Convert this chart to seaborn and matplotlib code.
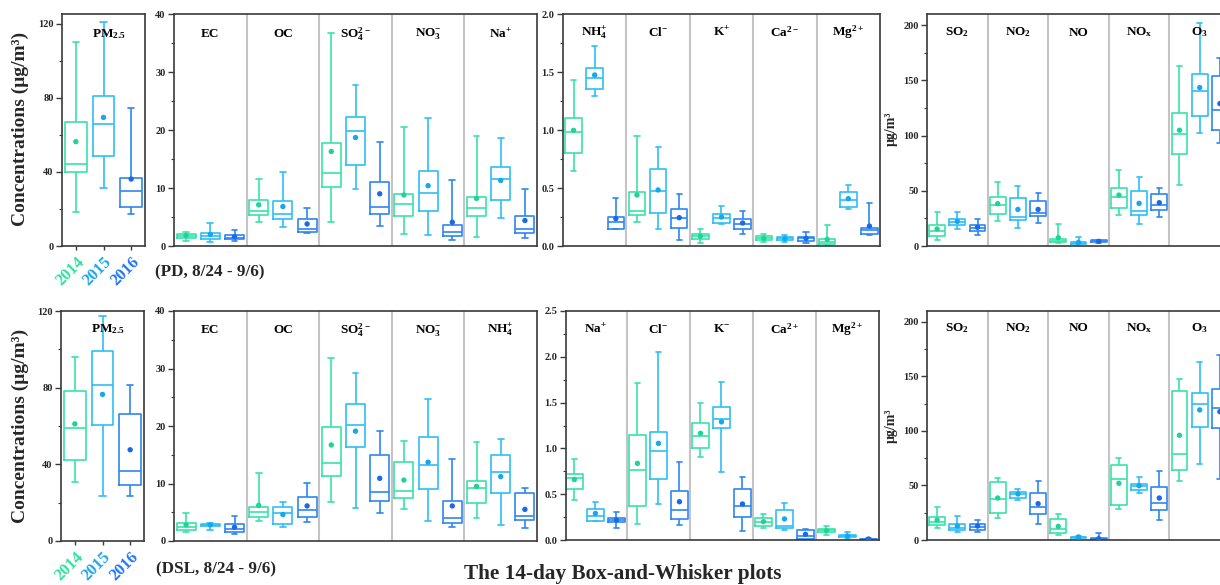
import matplotlib
matplotlib.use("Agg")
import matplotlib.pyplot as plt
import matplotlib.transforms as mtransforms
from matplotlib.ticker import MultipleLocator, FormatStrFormatter
import pandas as pd
import seaborn as sns

# ---------------------------------------------------------------------------
# Five-number summaries per box: (whisker low, Q1, median, Q3, whisker high)
# ---------------------------------------------------------------------------
YEARS = ["2014", "2015", "2016"]

# PD site, 8/24 - 9/6
pd_pm_species = ["PM$_{2.5}$"]
pd_pm_box = {
    "2014": [(18.2, 39.8, 44.3, 66.8, 110.5)],
    "2015": [(31.2, 48.6, 66.1, 81.1, 121.3)],
    "2016": [(17.1, 21.1, 29.9, 36.6, 74.6)],
}
pd_pm_mean = {"2014": [56.4], "2015": [69.5], "2016": [36.2]}

pd_major_species = ["EC", "OC", "SO$_4^{2-}$", "NO$_3^{-}$", "Na$^{+}$"]
pd_major_box = {
    "2014": [(0.8, 1.3, 1.7, 2.1, 2.4), (4.2, 5.3, 6.1, 8.0, 11.6),
             (4.1, 10.1, 12.6, 17.7, 36.8), (2.1, 5.1, 7.2, 9.0, 20.6),
             (1.5, 5.2, 6.5, 8.5, 19.0)],
    "2015": [(0.75, 1.15, 1.7, 2.2, 4.0), (3.3, 4.7, 5.5, 7.7, 12.8),
             (9.8, 13.9, 19.9, 22.2, 27.8), (1.9, 6.1, 9.1, 12.9, 22.1),
             (4.8, 7.9, 11.6, 13.7, 18.7)],
    "2016": [(0.9, 1.15, 1.4, 1.95, 2.8), (2.2, 2.5, 2.9, 4.6, 6.5),
             (3.4, 5.5, 6.7, 11.1, 18.0), (1.1, 1.8, 2.4, 3.7, 11.3),
             (1.4, 2.2, 3.0, 5.1, 9.9)],
}
pd_major_mean = {
    "2014": [1.8, 7.1, 16.3, 8.8, 8.2],
    "2015": [2.0, 6.8, 18.7, 10.4, 11.3],
    "2016": [1.6, 3.8, 9.0, 4.1, 4.4],
}

pd_minor_species = ["NH$_4^{+}$", "Cl$^{-}$", "K$^{+}$", "Ca$^{2-}$", "Mg$^{2+}$"]
pd_minor_box = {
    "2014": [(0.65, 0.80, 0.985, 1.105, 1.43), (0.21, 0.27, 0.30, 0.465, 0.95),
             (0.03, 0.063, 0.083, 0.106, 0.144), (0.037, 0.049, 0.066, 0.086, 0.106),
             (0.006, 0.014, 0.034, 0.057, 0.181)],
    "2015": [(1.29, 1.355, 1.45, 1.535, 1.72), (0.15, 0.287, 0.474, 0.667, 0.85),
             (0.187, 0.20, 0.244, 0.279, 0.345), (0.037, 0.055, 0.066, 0.078, 0.098),
             (0.316, 0.336, 0.40, 0.466, 0.526)],
    "2016": [(0.144, 0.149, 0.207, 0.253, 0.417), (0.052, 0.155, 0.244, 0.322, 0.451),
             (0.106, 0.144, 0.193, 0.23, 0.299), (0.029, 0.046, 0.066, 0.08, 0.118),
             (0.092, 0.106, 0.138, 0.155, 0.368)],
}
pd_minor_mean = {
    "2014": [0.997, 0.44, 0.083, 0.066, 0.057],
    "2015": [1.474, 0.483, 0.25, 0.063, 0.408],
    "2016": [0.236, 0.244, 0.198, 0.066, 0.172],
}

pd_gas_species = ["SO$_2$", "NO$_2$", "NO", "NO$_x$", "O$_3$"]
pd_gas_box = {
    "2014": [(5.4, 8.7, 13.6, 19.3, 30.4), (22.6, 28.6, 36.7, 44.6, 57.5),
             (2.7, 3.3, 4.8, 6.0, 19.6), (28.3, 34.6, 44.0, 52.7, 68.7),
             (54.8, 83.4, 101.8, 120.8, 162.7)],
    "2015": [(15.4, 18.7, 22.0, 24.7, 30.4), (16.0, 23.5, 26.5, 43.7, 54.5),
             (1.5, 2.1, 3.0, 3.9, 7.8), (19.9, 27.7, 31.6, 49.4, 62.3),
             (102.7, 117.5, 140.1, 155.4, 202.1)],
    "2016": [(9.6, 13.9, 16.6, 19.3, 24.7), (20.5, 27.4, 30.1, 40.4, 47.6),
             (3.0, 3.3, 4.2, 5.1, 5.7), (25.9, 32.5, 37.0, 46.7, 52.7),
             (92.8, 104.8, 123.5, 153.6, 170.5)],
}
pd_gas_mean = {
    "2014": [15.4, 38.3, 7.5, 46.1, 104.8],
    "2015": [22.3, 33.1, 3.3, 38.6, 143.4],
    "2016": [16.9, 33.1, 4.2, 39.2, 128.9],
}

# DSL site, 8/24 - 9/6
dsl_pm_species = ["PM$_{2.5}$"]
dsl_pm_box = {
    "2014": [(30.6, 42.4, 59.2, 78.1, 95.8)],
    "2015": [(23.5, 60.3, 81.2, 99.2, 117.2)],
    "2016": [(23.5, 29.1, 36.5, 66.1, 81.2)],
}
dsl_pm_mean = {"2014": [61.1], "2015": [76.5], "2016": [47.6]}

dsl_major_species = ["EC", "OC", "SO$_4^{2-}$", "NO$_3^{-}$", "NH$_4^{+}$"]
dsl_major_box = {
    "2014": [(1.5, 2.0, 2.5, 3.2, 4.8), (3.5, 4.1, 5.0, 6.0, 11.9),
             (6.7, 11.3, 13.6, 19.9, 31.8), (5.5, 7.4, 8.7, 13.8, 17.4),
             (4.0, 6.6, 9.3, 10.4, 17.3)],
    "2015": [(2.0, 2.65, 2.8, 2.9, 3.2), (2.5, 2.9, 4.8, 5.9, 6.8),
             (5.8, 16.4, 20.2, 23.9, 29.2), (3.5, 9.0, 13.2, 18.1, 24.7),
             (2.7, 8.3, 12.0, 15.0, 17.8)],
    "2016": [(1.2, 1.6, 2.1, 2.9, 4.3), (3.3, 4.2, 5.4, 7.7, 10.1),
             (4.8, 6.9, 8.6, 15.0, 19.1), (2.4, 3.1, 4.0, 7.0, 14.3),
             (2.2, 3.6, 4.3, 8.3, 9.2)],
}
dsl_major_mean = {
    "2014": [2.8, 6.2, 16.7, 10.6, 9.5],
    "2015": [2.8, 4.6, 19.1, 13.7, 11.2],
    "2016": [2.4, 6.1, 10.9, 6.1, 5.5],
}

dsl_minor_species = ["Na$^{+}$", "Cl$^{-}$", "K$^{-}$", "Ca$^{2+}$", "Mg$^{2+}$"]
dsl_minor_box = {
    "2014": [(0.44, 0.56, 0.68, 0.72, 0.88), (0.175, 0.375, 0.764, 1.15, 1.71),
             (0.91, 1.0, 1.13, 1.28, 1.5), (0.127, 0.153, 0.2, 0.24, 0.28),
             (0.055, 0.087, 0.106, 0.124, 0.156)],
    "2015": [(0.204, 0.21, 0.26, 0.335, 0.42), (0.393, 0.67, 0.975, 1.18, 2.05),
             (0.746, 1.22, 1.317, 1.456, 1.72), (0.113, 0.135, 0.155, 0.33, 0.40),
             (0.015, 0.033, 0.044, 0.051, 0.091)],
    "2016": [(0.13, 0.193, 0.22, 0.244, 0.31), (0.164, 0.226, 0.327, 0.535, 0.848),
             (0.098, 0.247, 0.375, 0.56, 0.684), (0.004, 0.011, 0.044, 0.113, 0.124),
             (0.0, 0.004, 0.007, 0.015, 0.022)],
}
dsl_minor_mean = {
    "2014": [0.66, 0.837, 1.165, 0.2, 0.102],
    "2015": [0.29, 1.055, 1.29, 0.23, 0.044],
    "2016": [0.218, 0.418, 0.393, 0.062, 0.011],
}

dsl_gas_species = ["SO$_2$", "NO$_2$", "NO", "NO$_x$", "O$_3$"]
dsl_gas_box = {
    "2014": [(11.3, 13.5, 16.5, 21.4, 30.6), (19.9, 24.5, 37.3, 52.9, 57.2),
             (4.6, 6.4, 9.8, 19.3, 23.9), (28.1, 32.1, 55.7, 68.8, 74.9),
             (53.8, 64.2, 78.6, 136.4, 147.4)],
    "2015": [(7.0, 8.9, 10.7, 14.7, 22.3), (36.7, 38.2, 42.2, 44.3, 46.8),
             (1.8, 2.1, 2.8, 3.1, 3.7), (42.8, 45.9, 49.5, 51.4, 57.5),
             (69.4, 103.7, 124.5, 134.6, 163.0)],
    "2016": [(7.0, 8.9, 12.2, 14.4, 18.0), (14.7, 24.2, 30.0, 43.4, 53.8),
             (0.3, 0.6, 1.2, 2.1, 6.1), (18.7, 27.2, 33.6, 48.9, 63.6),
             (55.7, 102.4, 121.4, 138.2, 169.7)],
}
dsl_gas_mean = {
    "2014": [18.3, 38.5, 12.5, 52.0, 96.0],
    "2015": [12.8, 42.2, 2.8, 49.8, 119.3],
    "2016": [12.8, 33.3, 1.2, 38.5, 117.7],
}

# ---------------------------------------------------------------------------
# Style
# ---------------------------------------------------------------------------
LINE_COLORS = {"2014": "#38E3A8", "2015": "#2EBFF5", "2016": "#2F86F2"}
MEAN_COLORS = {"2014": "#1FD39B", "2015": "#14A8EE", "2016": "#1C68E8"}
YEAR_TEXT_COLORS = ["#2FE0A0", "#1AA6EE", "#1F74FA"]
SPINE = "#3A3A3A"

sns.set_theme(style="ticks")
plt.rcParams["font.family"] = ["Liberation Serif", "DejaVu Serif"]
plt.rcParams["font.weight"] = "bold"
plt.rcParams["mathtext.default"] = "regular"
plt.rcParams["axes.linewidth"] = 1.2

W, H = 1220, 585
fig = plt.figure(figsize=(W / 100, H / 100), dpi=100)


def add_axes_px(x0, y0, x1, y1):
    return fig.add_axes([x0 / W, 1 - y1 / H, (x1 - x0) / W, (y1 - y0) / H])


def long_frames(box, mean):
    rows, mrows = [], []
    for j, yr in enumerate(YEARS):
        for g, stats in enumerate(box[yr]):
            pos = 3 * g + j
            for v in stats:
                rows.append({"x": pos, "value": v, "year": yr})
            mrows.append({"x": pos, "mean": mean[yr][g], "year": yr})
    return pd.DataFrame(rows), pd.DataFrame(mrows)


def draw_panel(ax, species, box, mean, ylim, major, minor, fmt, label_y,
               xlim=None, year_ticks=False):
    df, mdf = long_frames(box, mean)
    sns.boxplot(data=df, x="x", y="value", hue="year", hue_order=YEARS,
                palette=LINE_COLORS, native_scale=True, fill=False,
                width=0.78, whis=(0, 100), linewidth=1.2, saturation=1,
                legend=False, capwidths=0.24, ax=ax)
    sns.scatterplot(data=mdf, x="x", y="mean", hue="year", hue_order=YEARS,
                    palette=MEAN_COLORS, s=15, edgecolor="none", legend=False,
                    ax=ax, zorder=5)
    n = len(species)
    for g in range(1, n):
        ax.axvline(3 * g - 0.5, color="#C4C4C4", lw=1.5, zorder=0)
    trans = mtransforms.blended_transform_factory(ax.transData, ax.transAxes)
    for g, name in enumerate(species):
        xc = 3 * g + 1 if n > 1 else 1.2
        ax.text(xc, label_y, name, transform=trans, ha="center", va="center",
                fontsize=9.5, fontweight="bold", color="black")
    ax.set_xlim(xlim if xlim is not None else (-0.5, 3 * n - 0.5))
    ax.set_ylim(*ylim)
    ax.yaxis.set_major_locator(MultipleLocator(major))
    ax.yaxis.set_minor_locator(MultipleLocator(minor))
    ax.yaxis.set_major_formatter(FormatStrFormatter(fmt))
    ax.tick_params(axis="y", which="major", direction="out", length=4,
                   width=1.0, labelsize=7.5, pad=2, color=SPINE)
    ax.tick_params(axis="y", which="minor", direction="out", length=2.5,
                   width=0.8, color=SPINE, left=True)
    ax.set_xlabel("")
    ax.set_ylabel("")
    for s in ax.spines.values():
        s.set_color(SPINE)
        s.set_linewidth(1.2)
    if year_ticks:
        ax.set_xticks([0, 1, 2])
        ax.set_xticklabels(YEARS, rotation=45, ha="right", va="top",
                           rotation_mode="anchor", fontsize=12,
                           fontweight="bold")
        for lbl, c in zip(ax.get_xticklabels(), YEAR_TEXT_COLORS):
            lbl.set_color(c)
        ax.tick_params(axis="x", length=3, width=1.0, pad=3, color=SPINE)
    else:
        ax.set_xticks([])


# Top row (PD)
ax = add_axes_px(62, 14, 145, 246)
draw_panel(ax, pd_pm_species, pd_pm_box, pd_pm_mean, (0, 125.4), 40, 20,
           "%d", 0.914, year_ticks=True)
ax = add_axes_px(174, 14, 537, 246)
draw_panel(ax, pd_major_species, pd_major_box, pd_major_mean, (0, 40), 10, 5,
           "%d", 0.914)
ax = add_axes_px(563, 14, 880, 246)
draw_panel(ax, pd_minor_species, pd_minor_box, pd_minor_mean, (0, 2.0), 0.5,
           0.25, "%.1f", 0.92)
ax = add_axes_px(927, 14, 1230, 246)
draw_panel(ax, pd_gas_species, pd_gas_box, pd_gas_mean, (0, 210), 50, 25,
           "%d", 0.92)

# Bottom row (DSL)
ax = add_axes_px(61, 311, 144, 541)
draw_panel(ax, dsl_pm_species, dsl_pm_box, dsl_pm_mean, (0, 120), 40, 20,
           "%d", 0.92, year_ticks=True)
ax = add_axes_px(174, 311, 537, 541)
draw_panel(ax, dsl_major_species, dsl_major_box, dsl_major_mean, (0, 40), 10,
           5, "%d", 0.917)
ax = add_axes_px(566, 311, 879, 540)
draw_panel(ax, dsl_minor_species, dsl_minor_box, dsl_minor_mean, (0, 2.5), 0.5,
           0.25, "%.1f", 0.92, xlim=(-0.4, 14.5))
ax = add_axes_px(927, 311, 1230, 540)
draw_panel(ax, dsl_gas_species, dsl_gas_box, dsl_gas_mean, (0, 210), 50, 25,
           "%d", 0.925)

# Shared annotations
for yc in (129, 426):
    fig.text(20 / W, 1 - yc / H, "Concentrations (μg/m³)", rotation=90,
             ha="center", va="center", fontsize=14, fontweight="bold")
    fig.text(891 / W, 1 - yc / H, "μg/m³", rotation=90, ha="center",
             va="center", fontsize=10, fontweight="bold")

fig.text(155 / W, 1 - 272 / H, "(PD, 8/24 - 9/6)", ha="left", va="center",
         fontsize=12.3, fontweight="bold")
fig.text(156 / W, 1 - 569 / H, "(DSL, 8/24 - 9/6)", ha="left", va="center",
         fontsize=12.3, fontweight="bold")
fig.text(623 / W, 1 - 574 / H, "The 14-day Box-and-Whisker plots",
         ha="center", va="center", fontsize=15.3, fontweight="bold")

fig.savefig("out.png", dpi=100, facecolor="white")
